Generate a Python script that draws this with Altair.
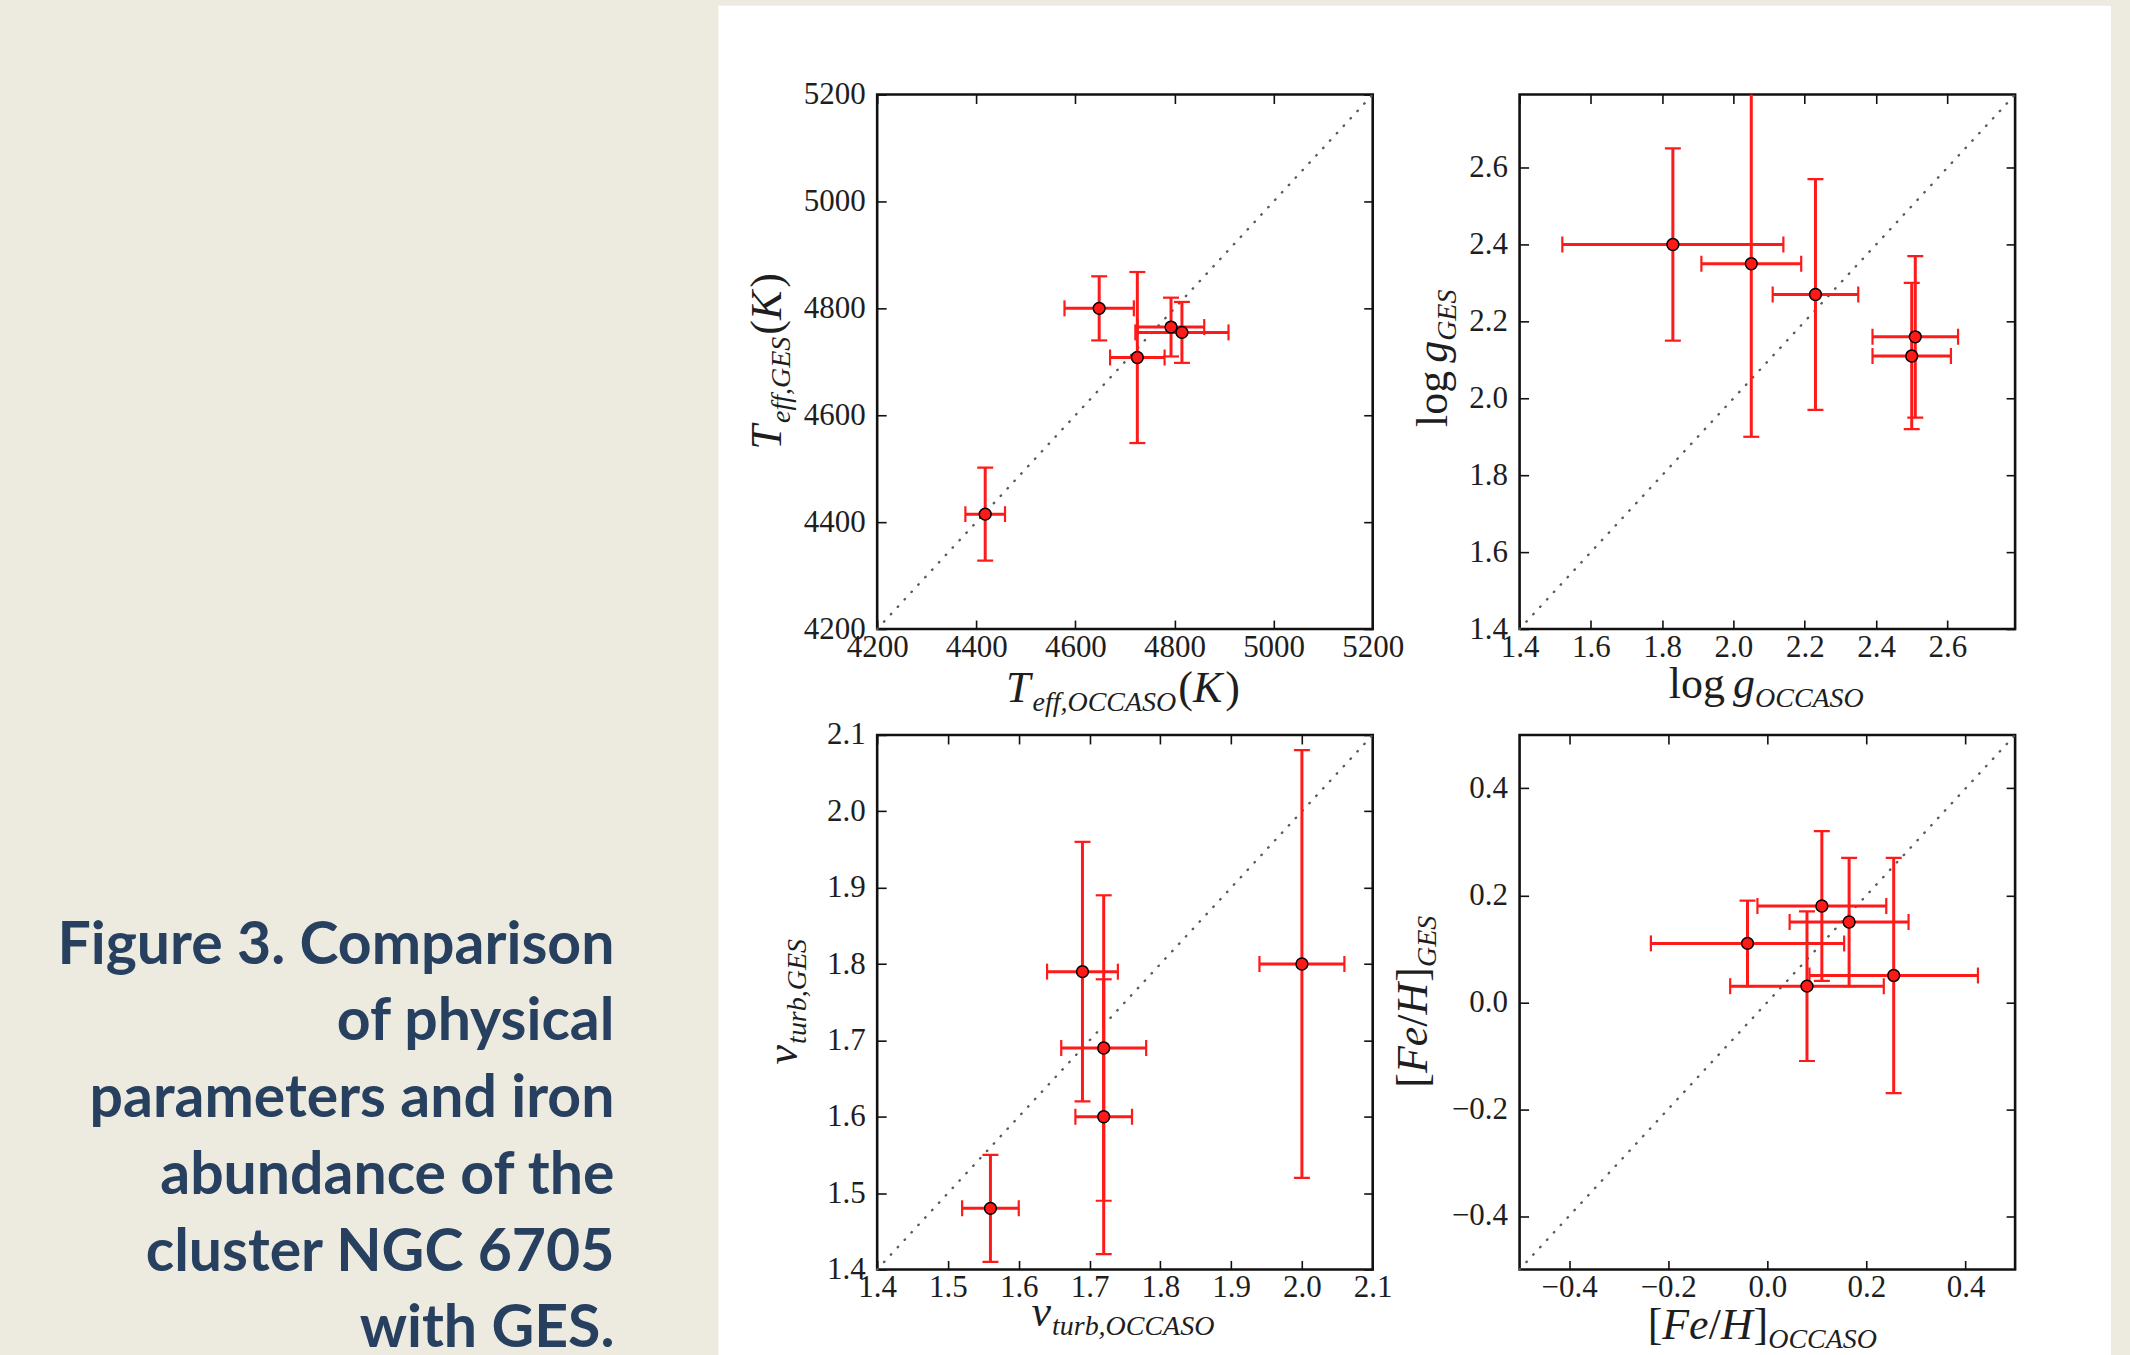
import altair as alt
import pandas as pd

# ---------------- data ----------------
teff_occaso = [4418, 4648, 4725, 4793, 4815]
teff_occaso_err = [40, 70, 55, 67, 94]
teff_ges = [4415, 4800, 4708, 4765, 4755]
teff_ges_err = [87, 60, 160, 55, 57]

logg_occaso = [1.83, 2.05, 2.23, 2.51, 2.50]
logg_occaso_err = [0.31, 0.14, 0.12, 0.12, 0.11]
logg_ges = [2.40, 2.35, 2.27, 2.16, 2.11]
logg_ges_err = [0.25, 0.45, 0.30, 0.21, 0.19]

vturb_occaso = [1.56, 1.69, 1.72, 1.72, 2.00]
vturb_occaso_err = [0.04, 0.05, 0.06, 0.04, 0.06]
vturb_ges = [1.48, 1.79, 1.69, 1.60, 1.80]
vturb_ges_err = [0.07, 0.17, 0.20, 0.18, 0.28]

feh_occaso = [-0.04, 0.11, 0.165, 0.08, 0.255]
feh_occaso_err = [0.195, 0.13, 0.12, 0.155, 0.17]
feh_ges = [0.11, 0.18, 0.15, 0.03, 0.05]
feh_ges_err = [0.08, 0.14, 0.12, 0.14, 0.22]

teff_ticks = [4200, 4400, 4600, 4800, 5000, 5200]
logg_ticks = [1.4, 1.6, 1.8, 2.0, 2.2, 2.4, 2.6]
vturb_ticks = [1.4, 1.5, 1.6, 1.7, 1.8, 1.9, 2.0, 2.1]
feh_ticks = [-0.4, -0.2, 0.0, 0.2, 0.4]

teff_range = [4200, 5200]
logg_range = [1.4, 2.79]
vturb_range = [1.4, 2.1]
feh_range = [-0.5, 0.5]

caption_lines = [
    "Figure 3. Comparison",
    "of physical",
    "parameters and iron",
    "abundance of the",
    "cluster NGC 6705",
    "with GES.",
]

# ---------------- style ----------------
BEIGE = "#edeae0"
NAVY = "#27405f"
RED = "#ff1a1a"
INK = "#1e1e1e"
SERIF = "Liberation Serif"
PW, PH = 496, 535
M, S, SUB = 44, 28, 9   # title main size, subscript size, subscript drop

ONE = pd.DataFrame({"k": [0]})

IT_W = {"T": .556, "e": .444, "f": .278, ",": .25, "O": .722, "C": .667, "A": .611,
        "S": .5, "G": .722, "E": .611, "K": .667, "t": .278, "u": .5, "r": .389,
        "b": .5, "v": .444, "g": .5, "F": .611, "H": .722}
RM_W = {"l": .278, "o": .5, "g": .5, "(": .333, ")": .333, "[": .333, "]": .333, "/": .278}


def seg_width(text, size, italic):
    table = IT_W if italic else RM_W
    return sum(table.get(ch, 0.5) for ch in text) * size


def title_layers(segs, ax, ay, angle):
    total = sum(seg_width(t, sz, it) + gap for t, sz, it, dy, gap in segs)
    pos = -total / 2.0
    out = []
    for t, sz, it, dy, gap in segs:
        pos += gap
        out.append(
            alt.Chart(ONE).mark_text(
                text=t, font=SERIF, fontSize=sz,
                fontStyle="italic" if it else "normal",
                align="left", baseline="alphabetic", angle=angle,
                dx=pos, dy=dy, color=INK,
            ).encode(x=alt.value(ax), y=alt.value(ay))
        )
        pos += seg_width(t, sz, it)
    return out


def axis_main(orient, ticks, fmt, pad):
    return alt.Axis(
        orient=orient, values=ticks, format=fmt, title=None, domain=False, grid=False,
        tickSize=9, offset=-9, tickColor="#111", tickWidth=1.6,
        labelFont=SERIF, labelFontSize=31, labelColor=INK, labelPadding=pad,
        labelFlush=False, labelOverlap=False, labelBound=False,
    )


def axis_minor(orient, ticks):
    return alt.Axis(
        orient=orient, values=ticks, labels=False, title=None, domain=False, grid=False,
        tickSize=9, offset=-9, tickColor="#111", tickWidth=1.6,
    )


def err_table(x, xe, y, ye):
    return pd.DataFrame({
        "x": x, "y": y,
        "xlo": [a - e for a, e in zip(x, xe)],
        "xhi": [a + e for a, e in zip(x, xe)],
        "ylo": [a - e for a, e in zip(y, ye)],
        "yhi": [a + e for a, e in zip(y, ye)],
    })


def panel(df, rng, ticks, fmt, xsegs, ysegs, xt, yt):
    xs = alt.Scale(domain=rng, nice=False, zero=False)
    ys = alt.Scale(domain=rng, nice=False, zero=False)
    diag = alt.Chart(pd.DataFrame({"a": rng})).mark_line(
        color="#5a5a5a", strokeWidth=2.4, strokeDash=[0.5, 9.6], strokeCap="round"
    ).encode(
        x=alt.X("a:Q", scale=xs, axis=axis_main("bottom", ticks, fmt, 3)),
        y=alt.Y("a:Q", scale=ys, axis=axis_main("left", ticks, fmt, 12)),
    )
    base = alt.Chart(df)
    hbar = base.mark_rule(color=RED, strokeWidth=3, clip=True).encode(
        x=alt.X("xlo:Q", scale=xs, axis=axis_minor("top", ticks)), x2="xhi:Q",
        y=alt.Y("y:Q", scale=ys, axis=axis_minor("right", ticks)),
    )
    vbar = base.mark_rule(color=RED, strokeWidth=3, clip=True).encode(
        x=alt.X("x:Q", scale=xs, axis=None),
        y=alt.Y("ylo:Q", scale=ys, axis=None), y2="yhi:Q",
    )
    vcap = dict(shape="M0,-1L0,1", size=256, filled=False, color=RED, strokeWidth=2.2, opacity=1, clip=True)
    hcap = dict(shape="M-1,0L1,0", size=256, filled=False, color=RED, strokeWidth=2.2, opacity=1, clip=True)
    cap1 = base.mark_point(**vcap).encode(x=alt.X("xlo:Q", scale=xs, axis=None), y=alt.Y("y:Q", scale=ys, axis=None))
    cap2 = base.mark_point(**vcap).encode(x=alt.X("xhi:Q", scale=xs, axis=None), y=alt.Y("y:Q", scale=ys, axis=None))
    cap3 = base.mark_point(**hcap).encode(x=alt.X("x:Q", scale=xs, axis=None), y=alt.Y("ylo:Q", scale=ys, axis=None))
    cap4 = base.mark_point(**hcap).encode(x=alt.X("x:Q", scale=xs, axis=None), y=alt.Y("yhi:Q", scale=ys, axis=None))
    pts = base.mark_circle(size=140, color=RED, stroke="black", strokeWidth=1.5, opacity=1).encode(
        x=alt.X("x:Q", scale=xs, axis=None), y=alt.Y("y:Q", scale=ys, axis=None)
    )
    layers = [diag, hbar, vbar, cap1, cap2, cap3, cap4, pts]
    layers += title_layers(xsegs, xt[0], xt[1], 0)
    layers += title_layers(ysegs, yt[0], yt[1], 270)
    return alt.layer(*layers).resolve_axis(x="independent", y="independent").properties(
        width=PW, height=PH, view=alt.ViewBackground(stroke="#111", strokeWidth=2.6)
    )


tl = panel(
    err_table(teff_occaso, teff_occaso_err, teff_ges, teff_ges_err), teff_range, teff_ticks, "d",
    [("T", M, True, 0, 0), ("eff,OCCASO", S, True, SUB, 2), ("(", M, False, 0, 2), ("K", M, True, 0, 0), (")", M, False, 0, 3)],
    [("T", M, True, 0, 0), ("eff,GES", S, True, SUB, 2), ("(", M, False, 0, 2), ("K", M, True, 0, 0), (")", M, False, 0, 3)],
    (246, 608), (-96, 267),
)
tr = panel(
    err_table(logg_occaso, logg_occaso_err, logg_ges, logg_ges_err), logg_range, logg_ticks, ".1f",
    [("log", M, False, 0, 0), ("g", M, True, 0, 8), ("OCCASO", S, True, SUB, 0)],
    [("log", M, False, 0, 0), ("g", M, True, 0, 8), ("GES", S, True, SUB, 0)],
    (247, 604), (-73, 264),
)
bl = panel(
    err_table(vturb_occaso, vturb_occaso_err, vturb_ges, vturb_ges_err), vturb_range, vturb_ticks, ".1f",
    [("v", M, True, 0, 0), ("turb,OCCASO", S, True, SUB, 1)],
    [("v", M, True, 0, 0), ("turb,GES", S, True, SUB, 1)],
    (246, 592), (-80, 267),
)
br = panel(
    err_table(feh_occaso, feh_occaso_err, feh_ges, feh_ges_err), feh_range, feh_ticks, ".1f",
    [("[", M, False, 0, 0), ("Fe", M, True, 0, 0), ("/", M, False, 0, 0), ("H", M, True, 0, 0), ("]", M, False, 0, 1), ("OCCASO", S, True, SUB, 0)],
    [("[", M, False, 0, 0), ("Fe", M, True, 0, 0), ("/", M, False, 0, 0), ("H", M, True, 0, 0), ("]", M, False, 0, 1), ("GES", S, True, SUB, 0)],
    (243, 605), (-93, 267),
)

# caption / page decoration (positions relative to this small view's origin)
cap_df = pd.DataFrame({"t": caption_lines, "i": list(range(len(caption_lines)))})
caption = alt.layer(
    alt.Chart(ONE).mark_rect(color=BEIGE, strokeWidth=0).encode(
        x=alt.value(-857), x2=alt.value(1273), y=alt.value(-93), y2=alt.value(1262)),
    alt.Chart(ONE).mark_rect(color="white", strokeWidth=0).encode(
        x=alt.value(-139), x2=alt.value(1255), y=alt.value(-89), y2=alt.value(1262)),
    alt.Chart(cap_df).mark_text(
        align="right", baseline="alphabetic", font="Lato", fontWeight="bold",
        fontSize=59, color=NAVY,
    ).encode(
        x=alt.value(-243),
        y=alt.Y("i:Q", scale=alt.Scale(domain=[0, 5], range=[870, 1254]), axis=None),
        text="t:N",
    ),
).properties(width=10, height=10, view=alt.ViewBackground(stroke="transparent"))

grid = alt.concat(tl, tr, bl, br, columns=2, spacing={"row": 106, "column": 147}, bounds="flush")

chart = alt.hconcat(caption, grid, spacing=10, bounds="flush").properties(
    padding=0, background=BEIGE
).configure_view(stroke="transparent")

chart.save("out.html", embed_options={"renderer": "svg", "actions": False})
